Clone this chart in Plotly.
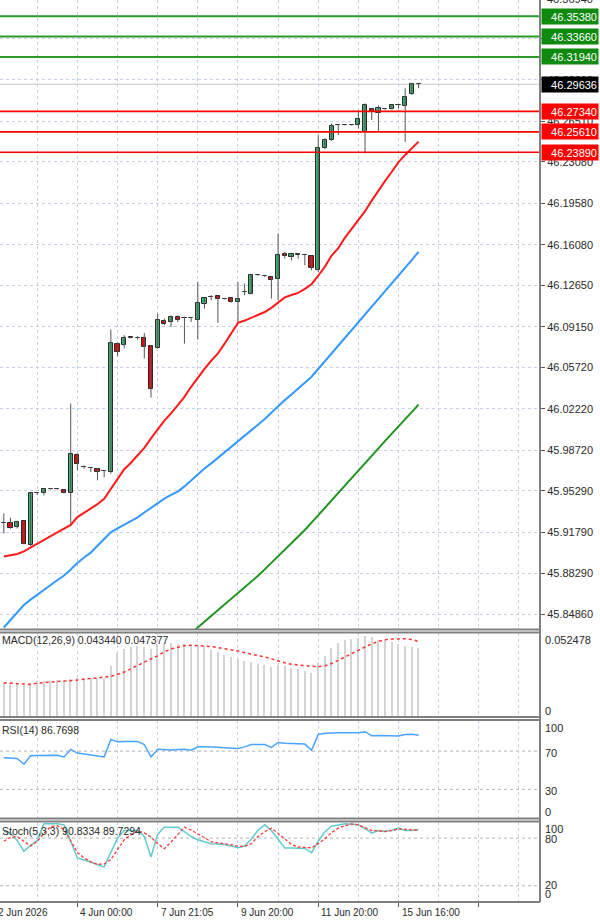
import plotly.graph_objects as go

W, H = 600, 920
FONT = "Liberation Sans, Arial, sans-serif"

# ---------------- data ----------------
opens = [45.9253, 45.9255, 45.9219, 45.9270, 45.9067, 45.9510, 45.9512, 45.9545, 45.9546, 45.9538,
         45.9509, 45.9828, 45.9729, 45.9721, 45.9715, 45.9693, 45.9687, 46.0772, 46.0758, 46.0822,
         46.0820, 46.0823, 46.0752, 46.0739, 46.0964, 46.0955, 46.0997, 46.0988, 46.0989, 46.0975,
         46.1105, 46.1168, 46.1172, 46.1152, 46.1158, 46.1124, 46.1208, 46.1195, 46.1349, 46.1341,
         46.1336, 46.1314, 46.1533, 46.1505, 46.1525, 46.1525, 46.1511, 46.1392, 46.2426, 46.2492,
         46.2618, 46.2618, 46.2617, 46.2618, 46.2562, 46.2751, 46.2722, 46.2753, 46.2754, 46.2787,
         46.2779, 46.2880, 46.2964]
highs = [45.9337, 45.9301, 45.9275, 45.9275, 45.9512, 45.9515, 45.9546, 45.9550, 45.9552, 45.9541,
         46.0265, 45.9845, 45.9743, 45.9730, 45.9720, 45.9701, 46.0891, 46.0780, 46.0843, 46.0830,
         46.0834, 46.0862, 46.0758, 46.1026, 46.0984, 46.1012, 46.1012, 46.1000, 46.0995, 46.1293,
         46.1165, 46.1181, 46.1176, 46.1158, 46.1162, 46.1293, 46.1280, 46.1355, 46.1356, 46.1348,
         46.1340, 46.1702, 46.1547, 46.1533, 46.1530, 46.1531, 46.1516, 46.2534, 46.2508, 46.2633,
         46.2623, 46.2622, 46.2622, 46.2745, 46.2802, 46.2760, 46.2787, 46.2758, 46.2790, 46.2796,
         46.2929, 46.2976, 46.2966]
lows = [45.9168, 45.9208, 45.9210, 45.9075, 45.9060, 45.9495, 45.9489, 45.9540, 45.9538, 45.9506,
        45.9250, 45.9701, 45.9714, 45.9687, 45.9617, 45.9644, 45.9673, 46.0665, 46.0730, 46.0815,
        46.0806, 46.0646, 46.0316, 46.0730, 46.0927, 46.0913, 46.0955, 46.0772, 46.0955, 46.0806,
        46.1068, 46.1139, 46.0947, 46.1145, 46.1118, 46.0955, 46.1181, 46.1190, 46.1343, 46.1335,
        46.1153, 46.1139, 46.1491, 46.1475, 46.1491, 46.1435, 46.1392, 46.1378, 46.2416, 46.2485,
        46.2534, 46.2615, 46.2614, 46.2590, 46.2379, 46.2661, 46.2562, 46.2748, 46.2750, 46.2760,
        46.2477, 46.2872, 46.2930]
closes = [45.9258, 45.9217, 45.9264, 45.9081, 45.9509, 45.9512, 45.9543, 45.9547, 45.9547, 45.9509,
          45.9842, 45.9758, 45.9730, 45.9720, 45.9687, 45.9692, 46.0778, 46.0701, 46.0823, 46.0824,
          46.0821, 46.0744, 46.0386, 46.0969, 46.0942, 46.0997, 46.0975, 46.0989, 46.0990, 46.1111,
          46.1161, 46.1170, 46.1145, 46.1153, 46.1124, 46.1147, 46.1209, 46.1350, 46.1350, 46.1342,
          46.1308, 46.1525, 46.1513, 46.1528, 46.1526, 46.1524, 46.1407, 46.2426, 46.2492, 46.2612,
          46.2619, 46.2619, 46.2619, 46.2667, 46.2787, 46.2731, 46.2760, 46.2754, 46.2787, 46.2788,
          46.2853, 46.2965, 46.29636]

ma_red = [45.89738, 45.89823, 45.89950, 45.90161, 45.90499, 45.90838, 45.91176, 45.91455, 45.91768, 45.92081,
          45.92402, 45.93061, 45.93417, 45.93738, 45.94152, 45.94617, 45.95421, 45.96292, 45.97112, 45.97653,
          45.98245, 45.98913, 45.99716, 46.00486, 46.01221, 46.01830, 46.02566, 46.03217, 46.04071, 46.04857,
          46.05593, 46.06270, 46.06887, 46.07715, 46.08646, 46.09474, 46.09669, 46.09914, 46.10125, 46.10388,
          46.10743, 46.11148, 46.11622, 46.11825, 46.12011, 46.12349, 46.12738, 46.13457, 46.14226, 46.15165,
          46.15782, 46.16670, 46.17431, 46.18116, 46.18911, 46.19799, 46.20661, 46.21473, 46.22243, 46.23054,
          46.23663, 46.24230, 46.24788]
ma_blue = [45.83735, 45.84377, 45.85020, 45.85637, 45.86085, 45.86517, 45.86914, 45.87328, 45.87726, 45.88132,
           45.88631, 45.89189, 45.89645, 45.90060, 45.90643, 45.91226, 45.91768, 45.92114, 45.92402, 45.92681,
           45.93036, 45.93450, 45.93848, 45.94254, 45.94626, 45.94939, 45.95218, 45.95657, 45.96173, 45.96697,
           45.97163, 45.97602, 45.98059, 45.98532, 45.98997, 45.99463, 45.99928, 46.00393, 46.00866, 46.01357,
           46.01915, 46.02464, 46.02946, 46.03428, 46.03910, 46.04401, 46.04925, 46.05576, 46.06236, 46.06895,
           46.07555, 46.08206, 46.08840, 46.09483, 46.10117, 46.10760, 46.11419, 46.12079, 46.12747, 46.13432,
           46.14108, 46.14793, 46.15478]
ma_green = [None] * 27 + [
           45.82771, 45.83253, 45.83735,
           45.84208, 45.84682, 45.85164, 45.85646, 45.86119, 45.86601, 45.87075, 45.87557, 45.88106, 45.88647,
           45.89189, 45.89738, 45.90279, 45.90821, 45.91370, 45.91971, 45.92596, 45.93214, 45.93831, 45.94457,
           45.95082, 45.95700, 45.96325, 45.96960, 45.97594, 45.98228, 45.98862, 45.99496, 46.00122, 46.00756,
           46.01382, 46.01974, 46.02566]

macd_main = [0.02149, 0.02149, 0.02149, 0.02023, 0.02149, 0.02244, 0.02276, 0.02276, 0.02307, 0.02339,
             0.02402, 0.02465, 0.02434, 0.02434, 0.02434, 0.02434, 0.03192, 0.04046, 0.04267, 0.04425,
             0.04488, 0.04425, 0.04298, 0.04614, 0.04678, 0.04678, 0.04614, 0.04583, 0.04520, 0.04551,
             0.04456, 0.04216, 0.04090, 0.03938, 0.03793, 0.03666, 0.03521, 0.03458, 0.03350, 0.03306,
             0.03161, 0.03306, 0.03192, 0.03097, 0.03003, 0.02908, 0.02781, 0.03458, 0.03875, 0.04362,
             0.04678, 0.04848, 0.04930, 0.04994, 0.05101, 0.05057, 0.04886, 0.04848, 0.04722, 0.04614,
             0.04469, 0.04425, 0.04344]
macd_signal = [0.02118, 0.02086, 0.02054, 0.02010, 0.02004, 0.02086, 0.02118, 0.02137, 0.02162, 0.02187,
               0.02244, 0.02288, 0.02339, 0.02383, 0.02440, 0.02472, 0.02516, 0.02655, 0.02800, 0.03003,
               0.03224, 0.03413, 0.03635, 0.03824, 0.04077, 0.04267, 0.04374, 0.04475, 0.04501, 0.04501,
               0.04456, 0.04412, 0.04349, 0.04267, 0.04204, 0.04134, 0.04027, 0.03919, 0.03843, 0.03761,
               0.03635, 0.03489, 0.03382, 0.03287, 0.03236, 0.03186, 0.03142, 0.03129, 0.03192, 0.03338,
               0.03540, 0.03774, 0.03963, 0.04172, 0.04393, 0.04602, 0.04741, 0.04855, 0.04899, 0.04924,
               0.04912, 0.04867, 0.047377]
rsi = [63, 62.5, 62.3, 56.3, 65.1, 65.5, 65.8, 65.8, 65.8, 64,
       71.8, 68, 67, 66, 64.5, 64, 82.3, 79.8, 80.2, 80.2,
       80.2, 77, 64, 72.1, 71.5, 71.2, 71.8, 72, 71, 74.6,
       74.6, 74.6, 74, 73.5, 73, 72.8, 74.5, 77, 77, 77,
       73.9, 79.1, 78.3, 78, 77.8, 77.4, 71, 87.5, 88.8, 89.3,
       89.3, 89.3, 89.3, 89.3, 90.4, 86.1, 86.5, 86.1, 86.3, 85.8,
       87.5, 87.6, 86.7698]
stoch_k = [88.5, 86, 77, 63.3, 70.8, 77, 97.9, 97.9, 97.9, 96.7,
           76, 55, 52.5, 50, 46.5, 43.8, 62, 80, 89.6, 89.6,
           89.6, 82, 56.3, 85, 93.8, 93.8, 93.8, 88, 82, 78,
           75, 72.9, 72.5, 72, 70, 68, 70, 79, 90, 96.7,
           89.6, 78, 67.5, 67.5, 67.5, 67, 61.7, 76, 88, 95,
           96.5, 97.9, 97.5, 96.7, 92, 86.3, 89.6, 88.3, 90, 92.5,
           89.6, 89.6, 90.8334]
stoch_d = [76, 81, 82, 76, 70, 76, 86, 94.5, 95.5, 91,
           76, 62, 55, 50, 47, 47.5, 53, 66, 78, 84,
           89, 86.5, 81.3, 73, 66.7, 75, 85, 93.8, 90, 85.4,
           80, 75.5, 74, 73.2, 71.5, 70, 69.5, 73, 82, 88,
           92.5, 86, 79, 72, 68.8, 68, 67.8, 73, 79.2, 87,
           92.5, 95.5, 97.9, 96.5, 93, 89.5, 89, 88.3, 89.5, 91.5,
           91, 90, 89.7294]

resistance_levels = [46.35380, 46.33660, 46.31940]
support_levels = [46.27340, 46.25610, 46.23890]
bid_price = 46.29636
price_ticks = [46.33510, 46.30010, 46.26510, 46.23080, 46.19580, 46.16080, 46.12650, 46.09150,
               46.05720, 46.02220, 45.98720, 45.95290, 45.91790, 45.88290, 45.84860]
top_cut_tick = 46.36940
time_labels = ["2 Jun 2026", "4 Jun 00:00", "7 Jun 21:05", "9 Jun 20:00", "11 Jun 20:00", "15 Jun 16:00"]
time_label_bars = [-1, 11, 23, 35, 47, 59]

# ---------------- geometry helpers ----------------
def py(px):
    return 1 - px / H

def pxp(px):
    return px / W

XR = [-0.57, 80.15]
XDOM = [0, 540 / W]
GRID = "#c5d0e6"
TXT = "#2a2a2a"
idx = list(range(len(opens)))

fig = go.Figure()

# wicks
wx, wy = [], []
for i, (h, l) in enumerate(zip(highs, lows)):
    wx += [i, i, None]
    wy += [l, h, None]
fig.add_trace(go.Scatter(x=wx, y=wy, mode="lines", line=dict(color="#555555", width=1),
                         xaxis="x", yaxis="y", hoverinfo="skip"))
# bodies
base = [min(o, c) for o, c in zip(opens, closes)]
hgt = [abs(c - o) for o, c in zip(opens, closes)]
cols = ["#3cb371" if c >= o else "#ee0000" for o, c in zip(opens, closes)]
fig.add_trace(go.Bar(x=idx, y=hgt, base=base, width=0.62,
                     marker=dict(color=cols, line=dict(color="#2b2b2b", width=1)),
                     xaxis="x", yaxis="y", hoverinfo="skip"))
# moving averages
fig.add_trace(go.Scatter(x=idx, y=ma_green, mode="lines", line=dict(color="#1f951f", width=2), xaxis="x", yaxis="y"))
fig.add_trace(go.Scatter(x=idx, y=ma_blue, mode="lines", line=dict(color="#3399ff", width=2), xaxis="x", yaxis="y"))
fig.add_trace(go.Scatter(x=idx, y=ma_red, mode="lines", line=dict(color="#ff1a1a", width=2), xaxis="x", yaxis="y"))

# MACD
fig.add_trace(go.Bar(x=idx, y=macd_main, width=0.22, marker=dict(color="#d4d4d4", line=dict(width=0)),
                     xaxis="x2", yaxis="y2"))
fig.add_trace(go.Scatter(x=idx, y=macd_signal, mode="lines", line=dict(color="#ff3030", width=1.5, dash="dot"),
                         xaxis="x2", yaxis="y2"))
# RSI
fig.add_trace(go.Scatter(x=idx, y=rsi, mode="lines", line=dict(color="#4aa3ff", width=1.5), xaxis="x3", yaxis="y3"))
# Stoch
fig.add_trace(go.Scatter(x=idx, y=stoch_k, mode="lines", line=dict(color="#62cccc", width=1.5), xaxis="x4", yaxis="y4"))
fig.add_trace(go.Scatter(x=idx, y=stoch_d, mode="lines", line=dict(color="#ff3a3a", width=1.3, dash="3px,2px"),
                         xaxis="x4", yaxis="y4"))

xcommon = dict(range=XR, domain=XDOM, showticklabels=False, zeroline=False, showline=False,
               tickmode="linear", tick0=5, dtick=6, ticks="",
               showgrid=True, gridcolor=GRID, griddash="dot", gridwidth=1, fixedrange=True)
xbottom = dict(range=XR, domain=XDOM, showticklabels=False, zeroline=False, showline=False,
               tickmode="linear", tick0=11, dtick=12, ticks="outside", ticklen=4, tickcolor="#555",
               showgrid=True, gridcolor=GRID, griddash="dot", gridwidth=1, fixedrange=True,
               minor=dict(tickmode="linear", tick0=5, dtick=6, ticks="", showgrid=True,
                          gridcolor=GRID, griddash="dot", gridwidth=1))

shapes = []
# level lines
for lv in resistance_levels:
    shapes.append(dict(type="line", xref="paper", yref="y", x0=0, x1=XDOM[1], y0=lv, y1=lv,
                       line=dict(color="#2a9a2a", width=2)))
for lv in support_levels:
    shapes.append(dict(type="line", xref="paper", yref="y", x0=0, x1=XDOM[1], y0=lv, y1=lv,
                       line=dict(color="#ff0000", width=1.6)))
shapes.append(dict(type="line", xref="paper", yref="y", x0=0, x1=XDOM[1], y0=bid_price, y1=bid_price,
                   line=dict(color="#c8c8c8", width=1), layer="below"))
# panel borders
for ypx in [629.5, 632.5, 717, 720, 818.5, 821.5, 902]:
    shapes.append(dict(type="line", xref="paper", yref="paper", x0=0, x1=XDOM[1], y0=py(ypx), y1=py(ypx),
                       line=dict(color="#808080", width=2)))
shapes.append(dict(type="line", xref="paper", yref="paper", x0=XDOM[1], x1=XDOM[1], y0=py(902), y1=1,
                   line=dict(color="#808080", width=2)))
# indicator level lines
for lv in [30, 70]:
    shapes.append(dict(type="line", xref="paper", yref="y3", x0=0, x1=XDOM[1], y0=lv, y1=lv,
                       line=dict(color="#b4b4b4", width=1, dash="dot"), layer="below"))
for lv in [20, 80]:
    shapes.append(dict(type="line", xref="paper", yref="y4", x0=0, x1=XDOM[1], y0=lv, y1=lv,
                       line=dict(color="#b4b4b4", width=1, dash="dot"), layer="below"))

ann = []
def label_box(val, bg):
    ann.append(dict(xref="paper", yref="y", x=541 / W, y=val, xanchor="left", yanchor="middle",
                    text=f"{val:.5f}", showarrow=False, bgcolor=bg, borderpad=1, width=54, height=13,
                    align="right", font=dict(family=FONT, size=11, color="white")))
for lv in resistance_levels:
    label_box(lv, "#0f8a0f")
for lv in support_levels:
    label_box(lv, "#ff0000")
label_box(bid_price, "#000000")

ann.append(dict(xref="paper", yref="paper", x=545 / W, y=py(-1), xanchor="left", yanchor="middle",
                text=f"{top_cut_tick:.5f}", showarrow=False, font=dict(family=FONT, size=11, color=TXT)))

def txt(x_px, y_px, s, size=10.5):
    ann.append(dict(xref="paper", yref="paper", x=pxp(x_px), y=py(y_px), xanchor="left", yanchor="middle",
                    text=s, showarrow=False, font=dict(family=FONT, size=size, color=TXT)))

txt(0, 640, f"MACD(12,26,9) {macd_main[-1]:.6f} {macd_signal[-1]:.6f}")
txt(0, 730, f"RSI(14) {rsi[-1]:.4f}")
txt(0, 831, f"Stoch(5,3,3) {stoch_k[-1]:.4f} {stoch_d[-1]:.4f}")
txt(543, 640, "0.052478", 11)
txt(543, 711, "0", 11)
for s, ypx in [("100", 728), ("70", 753), ("30", 791), ("0", 812)]:
    txt(543, ypx, s, 11)
for s, ypx in [("100", 829), ("80", 839), ("20", 885), ("0", 894)]:
    txt(543, ypx, s, 11)

# time labels
ann.append(dict(xref="paper", yref="paper", x=pxp(-4), y=py(912), xanchor="left", yanchor="middle",
                text=time_labels[0], showarrow=False, font=dict(family=FONT, size=10, color=TXT)))
for lab, b in zip(time_labels[1:], time_label_bars[1:]):
    ann.append(dict(xref="x4", yref="paper", x=b, y=py(912), xanchor="left", yanchor="middle", xshift=1,
                    text=lab, showarrow=False, font=dict(family=FONT, size=10, color=TXT)))

fig.update_layout(
    width=W, height=H, margin=dict(l=0, r=0, t=0, b=0),
    paper_bgcolor="white", plot_bgcolor="white", showlegend=False, bargap=0,
    font=dict(family=FONT, color=TXT),
    xaxis=dict(xcommon, anchor="y"),
    xaxis2=dict(xcommon, anchor="y2", matches="x"),
    xaxis3=dict(xcommon, anchor="y3", matches="x"),
    xaxis4=dict(xbottom, anchor="y4", matches="x"),
    yaxis=dict(domain=[py(629.5), 1], range=[45.83565, 46.36753], anchor="x", side="right",
               tickmode="array", tickvals=price_ticks, ticktext=[f"{v:.5f}" for v in price_ticks],
               ticks="outside", ticklen=4, tickcolor="#555", tickfont=dict(family=FONT, size=11, color=TXT),
               showgrid=True, gridcolor=GRID, griddash="dot", zeroline=False, showline=False, fixedrange=True),
    yaxis2=dict(domain=[py(717), py(632.5)], range=[-0.00063, 0.0531], anchor="x2", side="right",
                showticklabels=False, showgrid=False, zeroline=False, fixedrange=True),
    yaxis3=dict(domain=[py(818.5), py(720)], range=[-0.53, 102.63], anchor="x3", side="right",
                showticklabels=False, showgrid=False, zeroline=False, fixedrange=True),
    yaxis4=dict(domain=[py(902), py(821.5)], range=[-0.375, 100.875], anchor="x4", side="right",
                showticklabels=False, showgrid=False, zeroline=False, fixedrange=True),
    shapes=shapes, annotations=ann,
)

fig.write_html("out.html")
